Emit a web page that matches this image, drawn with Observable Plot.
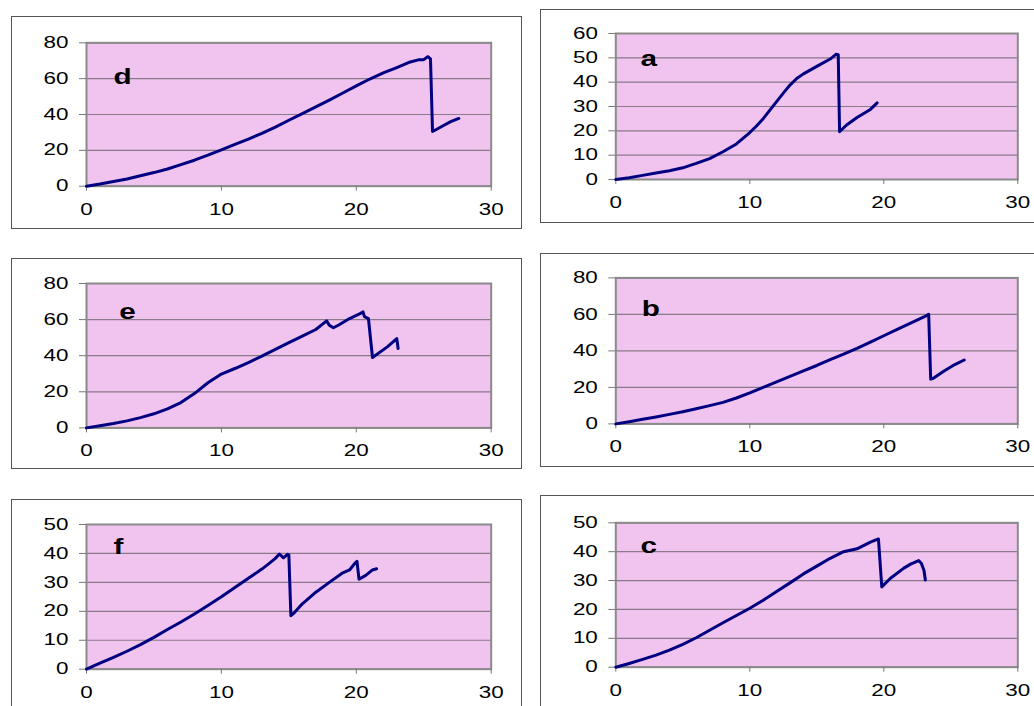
<!DOCTYPE html>
<html>
<head>
<meta charset="utf-8">
<script src="https://cdn.jsdelivr.net/npm/d3@7"></script>
<script src="https://cdn.jsdelivr.net/npm/@observablehq/plot@0.6"></script>
<style>
  html, body { margin: 0; padding: 0; background: #fff; }
  #root { position: relative; width: 1034px; height: 706px; overflow: hidden; background: #fff; }
  .box { position: absolute; border: 1px solid #555; box-sizing: border-box; }
  .pl { position: absolute; }
</style>
</head>
<body>
<div id="root"></div>
<script>
// ---- data ----
const xTicks = [0, 10, 20, 30];
const yTicks80 = [0, 20, 40, 60, 80];
const yTicks60 = [0, 10, 20, 30, 40, 50, 60];
const yTicks50 = [0, 10, 20, 30, 40, 50];

const dX = [0,1,2,3,4,5,6,7,8,9,10,11,12,13,14,15,16,17,18,19,20,21,22,23,24,24.6,25.0,25.3,25.5,25.65,25.9,26.5,27.0,27.6];
const dY = [0,1.2,2.6,4.0,5.8,7.6,9.6,12,14.5,17.3,20.3,23.3,26.3,29.5,33,36.8,40.5,44.2,48,52,56,59.8,63.2,66.2,69.3,70.5,70.6,72.3,71,30.5,31.5,34,36,37.8];

const aX = [0,1,2,3,4,5,6,7,8,9,10,10.5,11,11.5,12,12.5,13,13.5,14,15,16,16.45,16.6,16.7,17.2,18,19,19.5];
const aY = [0,0.7,1.7,2.7,3.6,4.8,6.6,8.6,11.4,14.6,19.3,22,25,28.5,32,35.5,38.8,41.5,43.4,46.5,49.5,51.5,51.3,19.6,22.3,25.5,28.8,31.5];

const eX = [0,1,2,3,4,5,6,7,8,9,10,11,12,13,14,15,16,17,17.5,17.8,18.0,18.3,18.7,19.5,20.2,20.5,20.6,20.9,21.2,22.3,23.0,23.1];
const eY = [0,1.2,2.4,3.9,5.7,7.8,10.5,14,19,25,29.8,32.9,36.2,39.8,43.5,47.2,50.8,54.5,57.5,59.3,56.9,55.5,57,60.6,63,64.3,61.6,60.6,39,44.9,49.5,44];

const bX = [0,1,2,3,4,5,6,7,8,9,10,11,12,13,14,15,16,17,18,19,20,21,22,23,23.35,23.5,23.7,24.5,25.3,26];
const bY = [0,1.2,2.5,3.8,5.2,6.7,8.3,10,11.8,14.2,17,20,23,26,29,32,35.2,38.2,41.4,44.8,48.3,51.8,55.2,58.6,60,24.5,25,29,32.5,35];

const fX = [0,1,2,3,4,5,6,7,8,9,10,11,12,13,13.5,14,14.3,14.6,14.9,15.0,15.15,15.4,16,17,18,19,19.5,19.9,20.05,20.2,20.7,21.2,21.5];
const fY = [0,2.1,4.1,6.2,8.5,11,13.7,16.3,19.1,22,25,28.2,31.4,34.6,36.4,38.3,39.8,38.5,39.7,39.5,18.5,19.5,22.6,26.6,30,33.3,34.3,36.6,37.3,31.1,32.4,34.3,34.7];

const cX = [0,1,2,3,4,5,6,7,8,9,10,11,12,13,14,15,16,17,18,19,19.6,19.85,20.5,21.5,22,22.6,22.8,23.0,23.1];
const cY = [0,1.3,2.7,4.2,5.9,7.9,10.2,12.8,15.4,17.9,20.4,23.2,26.2,29.2,32.3,35,37.7,40,41,43.3,44.4,27.8,30.8,34.3,35.7,36.9,36,33.5,30.2];

const letters = ["d", "a", "e", "b", "f", "c"];

// ---- layout ----
const panels = [
  {letter: letters[0], xs: dX, ys: dY, yTicks: yTicks80, box: [11, 16, 511, 213], plot: [86, 42.3, 490.7, 185.7], lab: [36, 34]},
  {letter: letters[1], xs: aX, ys: aY, yTicks: yTicks60, box: [540, 9.3, 497, 213.4], plot: [615.3, 33.3, 1017.3, 179.3], lab: [33, 25]},
  {letter: letters[2], xs: eX, ys: eY, yTicks: yTicks80, box: [11, 258.3, 511, 210.7], plot: [86, 283.3, 490.7, 427.7], lab: [41, 28]},
  {letter: letters[3], xs: bX, ys: bY, yTicks: yTicks80, box: [540, 253.3, 497, 213.7], plot: [615.3, 277.7, 1017.3, 423.7], lab: [35, 31]},
  {letter: letters[4], xs: fX, ys: fY, yTicks: yTicks50, box: [11, 499, 511, 230], plot: [86, 524, 490.7, 668.7], lab: [32, 22]},
  {letter: letters[5], xs: cX, ys: cY, yTicks: yTicks50, box: [540, 495, 497, 230], plot: [615.3, 522.3, 1017.3, 666.7], lab: [33, 23]}
];

const root = document.getElementById("root");
const FILL = "#F0C4EE";
const GRID = "#8a7a8a";
const BORDER = "#8a8a8a";
const LINE = "#000080";

function stretch(svg, sel, k) {
  svg.querySelectorAll(sel).forEach(t => {
    const L = t.getComputedTextLength();
    if (L > 0) {
      t.setAttribute("textLength", (L * k).toFixed(2));
      t.setAttribute("lengthAdjust", "spacingAndGlyphs");
    }
  });
}

panels.forEach(p => {
  const [bx, by, bw, bh] = p.box;
  const [pl, pt, pr, pb] = p.plot;
  const box = document.createElement("div");
  box.className = "box";
  Object.assign(box.style, {left: bx + "px", top: by + "px", width: bw + "px", height: bh + "px"});
  root.appendChild(box);

  const W = Math.min(bw, 1034 - bx);
  const H = bh;
  const data = p.xs.map((x, i) => ({x, y: p.ys[i]}));
  const ymax = p.yTicks[p.yTicks.length - 1];

  const svg = Plot.plot({
    width: W, height: H,
    marginLeft: pl - bx, marginRight: (bx + W) - pr,
    marginTop: pt - by, marginBottom: (by + H) - pb,
    style: {background: "transparent", fontFamily: "'Liberation Sans', Arial, sans-serif", fontSize: "16px", color: "#000", overflow: "visible"},
    x: {domain: [0, 30], axis: null},
    y: {domain: [0, ymax], axis: null},
    marks: [
      Plot.frame({fill: FILL, stroke: null}),
      Plot.gridY(p.yTicks, {stroke: GRID, strokeOpacity: 1, strokeWidth: 1.2}),
      Plot.frame({stroke: BORDER, strokeWidth: 2}),
      Plot.axisX(xTicks, {tickSize: 5, tickPadding: 12, stroke: "#777", fill: "#000", tickFormat: d => String(d), label: null}),
      Plot.axisY(p.yTicks, {tickSize: 7, tickPadding: 11, stroke: "#777", fill: "#000", tickFormat: d => String(d), label: null}),
      Plot.line(data, {x: "x", y: "y", stroke: LINE, strokeWidth: 3, strokeLinejoin: "round", strokeLinecap: "round"}),
      Plot.text([p.letter], {frameAnchor: "top-left", text: d => d, dx: p.lab[0], dy: p.lab[1], textAnchor: "middle", lineAnchor: "middle", fontWeight: "bold", fontSize: 22, fill: "#000"})
    ]
  });
  svg.classList.add("pl");
  svg.style.left = bx + "px";
  svg.style.top = by + "px";
  root.appendChild(svg);
  stretch(svg, "g[aria-label$='tick label'] text", 1.4);
  stretch(svg, "g[aria-label='text'] text", 1.35);
});
</script>
</body>
</html>
